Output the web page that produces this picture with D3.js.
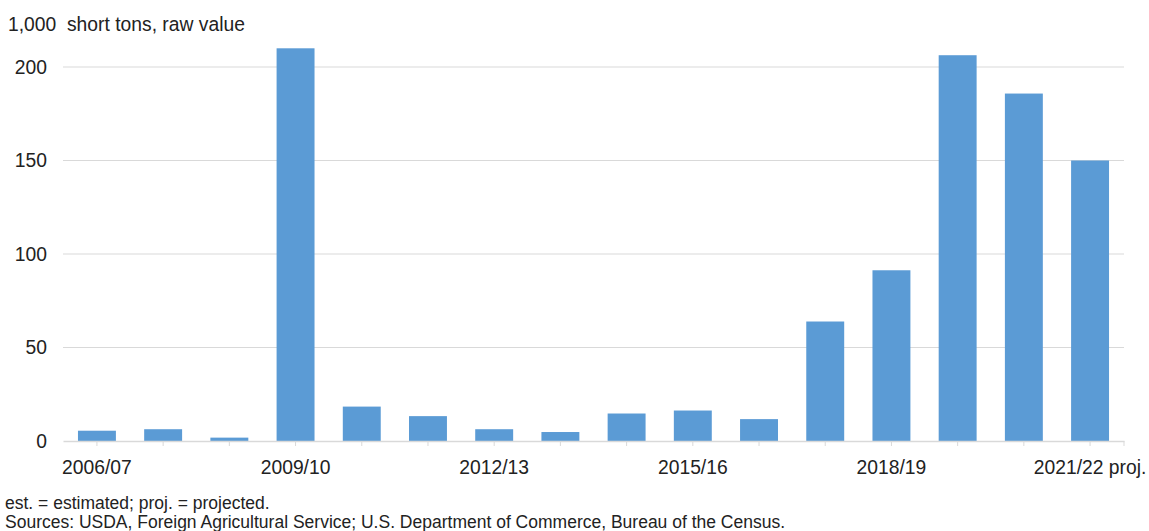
<!DOCTYPE html>
<html>
<head>
<meta charset="utf-8">
<script src="https://cdn.jsdelivr.net/npm/d3@7"></script>
<style>
  body { margin: 0; background: #fff; }
  svg text { font-family: "Liberation Sans", Arial, sans-serif; fill: #222; }
</style>
</head>
<body>
<script>
// marketing years and values (1,000 short tons, raw value)
var years = ["2006/07", "2007/08", "2008/09", "2009/10", "2010/11", "2011/12",
             "2012/13", "2013/14", "2014/15", "2015/16", "2016/17", "2017/18",
             "2018/19", "2019/20", "2020/21", "2021/22"];
var values = [5.5, 6.3, 1.8, 210, 18.4, 13.3, 6.3, 4.8, 14.7, 16.3, 11.7, 63.9, 91.3, 206.3, 185.8, 150];
// which categories get a label, and what it says
var tickLabels = {"2006/07": "2006/07", "2009/10": "2009/10", "2012/13": "2012/13",
                  "2015/16": "2015/16", "2018/19": "2018/19", "2021/22": "2021/22 proj."};
var yTicks = [0, 50, 100, 150, 200];
var footnotes = ["est. = estimated; proj. = projected.",
                 "Sources: USDA, Foreign Agricultural Service; U.S. Department of Commerce, Bureau of the Census."];

var width = 1149, height = 531;
var margin = {top: 67, right: 25, bottom: 90, left: 63};
var fontSize = 19.3;

var svg = d3.select("body").append("svg")
    .attr("width", width)
    .attr("height", height);

var x = d3.scaleBand()
    .domain(years)
    .range([margin.left, width - margin.right])
    .paddingInner(0.427)
    .paddingOuter(0.226);

var y = d3.scaleLinear()
    .domain([0, 200])
    .range([height - margin.bottom, margin.top]);

// gridlines
svg.append("g")
    .selectAll("line")
    .data(yTicks.filter(function(d) { return d > 0; }))
    .enter().append("line")
    .attr("x1", margin.left)
    .attr("x2", width - margin.right)
    .attr("y1", function(d) { return y(d); })
    .attr("y2", function(d) { return y(d); })
    .attr("stroke", "#d9d9d9")
    .attr("stroke-width", 1.2);

// y labels
var yAxis = svg.append("g")
    .attr("transform", "translate(" + (margin.left - 16) + ",0)")
    .call(d3.axisLeft(y).tickValues(yTicks).tickSize(0).tickPadding(0));
yAxis.select(".domain").remove();
yAxis.selectAll("text")
    .attr("font-size", fontSize)
    .attr("font-family", "Liberation Sans, Arial, sans-serif")
    .attr("fill", "#222");

// bars
svg.append("g")
    .selectAll("rect")
    .data(years)
    .enter().append("rect")
    .attr("x", function(d) { return x(d); })
    .attr("width", x.bandwidth())
    .attr("y", function(d, i) { return y(values[i]); })
    .attr("height", function(d, i) { return y(0) - y(values[i]); })
    .attr("fill", "#5b9bd5");

// x axis: ticks at every year, labels every third
var xAxis = svg.append("g")
    .attr("transform", "translate(0," + y(0) + ")")
    .call(d3.axisBottom(x)
        .tickSize(5)
        .tickSizeOuter(0)
        .tickPadding(14)
        .tickFormat(function(d) { return tickLabels[d] || ""; }));
xAxis.select(".domain")
    .attr("stroke", "#d9d9d9")
    .attr("stroke-width", 1.5);
xAxis.selectAll(".tick line").attr("stroke", "#d9d9d9");
xAxis.selectAll("text")
    .attr("font-size", fontSize)
    .attr("font-family", "Liberation Sans, Arial, sans-serif")
    .attr("fill", "#222");
// closing tick at the right end of the axis
xAxis.append("line")
    .attr("x1", width - margin.right)
    .attr("x2", width - margin.right)
    .attr("y1", 0)
    .attr("y2", 5)
    .attr("stroke", "#d9d9d9");

// unit label
svg.append("text")
    .attr("x", 8)
    .attr("y", 31)
    .attr("font-size", fontSize)
    .attr("xml:space", "preserve")
    .text("1,000  short tons, raw value");

// footnotes
svg.append("g")
    .selectAll("text")
    .data(footnotes)
    .enter().append("text")
    .attr("x", 5)
    .attr("y", function(d, i) { return 509 + i * 18.5; })
    .attr("font-size", 17.5)
    .text(function(d) { return d; });
</script>
</body>
</html>
